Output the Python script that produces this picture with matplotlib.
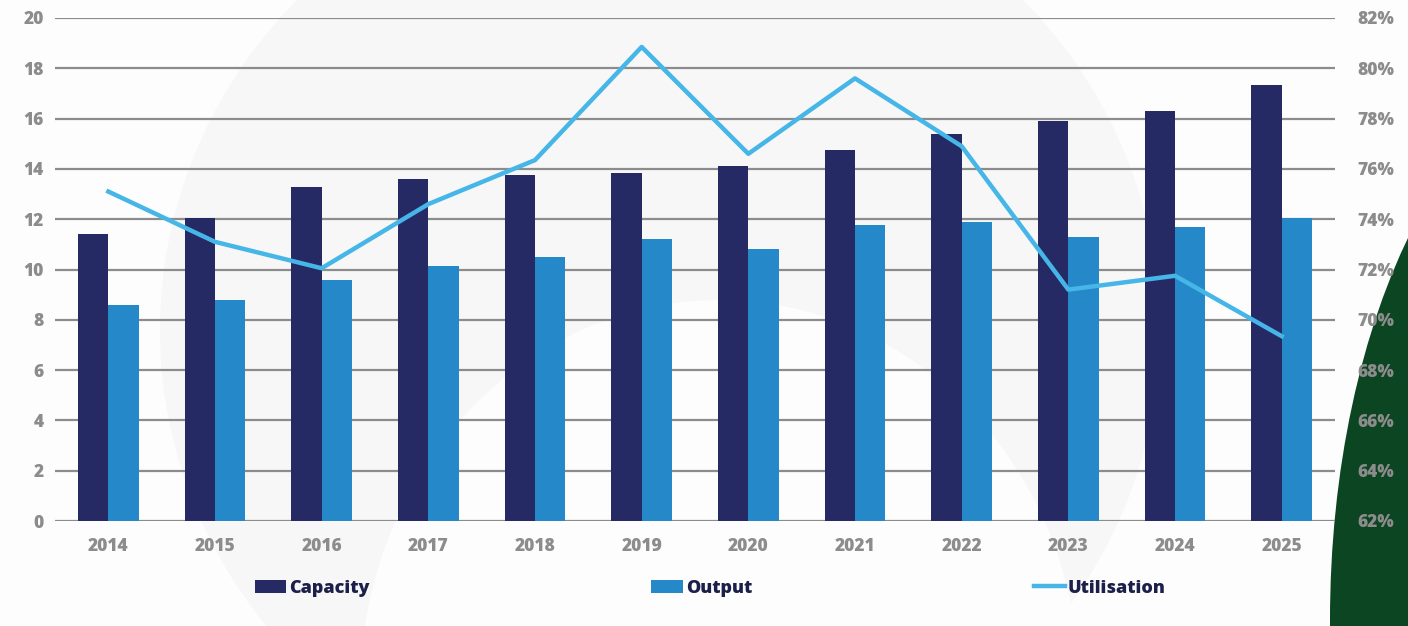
import matplotlib.pyplot as plt
from matplotlib.patches import Ellipse
import numpy as np

years = ['2014', '2015', '2016', '2017', '2018', '2019', '2020', '2021', '2022', '2023', '2024', '2025']
capacity = [11.4, 12.05, 13.3, 13.6, 13.75, 13.85, 14.1, 14.75, 15.4, 15.9, 16.3, 17.35]
output = [8.6, 8.8, 9.6, 10.15, 10.5, 11.2, 10.8, 11.75, 11.9, 11.3, 11.7, 12.05]
utilisation = [75.1, 73.1, 72.05, 74.6, 76.35, 80.85, 76.6, 79.6, 76.9, 71.2, 71.75, 69.35]

navy = '#252a64'
blue = '#2588c9'
light = '#45b6e7'
grey = '#8c8c8c'

fig = plt.figure(figsize=(14.08, 6.26), dpi=100)
fig.patch.set_facecolor('#fdfdfd')

# faint background shapes
bg = fig.add_axes([0, 0, 1, 1], zorder=-10)
bg.set_xlim(0, 1408)
bg.set_ylim(626, 0)
bg.axis('off')
bg.add_patch(Ellipse((660, 330), 1000, 960, color='#f7f7f7', lw=0))
bg.add_patch(Ellipse((720, 690), 720, 780, color='#fdfdfd', lw=0))
bg.add_patch(Ellipse((1620, 620), 580, 1120, color='#0c4522', lw=0))

ax = fig.add_axes([55/1408, 1 - 521/626, 1280/1408, 503/626])
ax.patch.set_alpha(0)
x = np.arange(len(years))
w = 0.285
ax.bar(x - w/2, capacity, w, color=navy, label='Capacity', zorder=3)
ax.bar(x + w/2, output, w, color=blue, label='Output', zorder=3)
ax.set_xlim(-0.5, len(years) - 0.5)
ax.set_ylim(0, 20)
ax.set_yticks(range(0, 21, 2))
ax.set_xticks(x)
ax.set_xticklabels(years)
ax.grid(axis='y', color=grey, lw=1.6, zorder=0)
for s in ax.spines.values():
    s.set_visible(False)
ax.tick_params(length=0, colors=grey, labelsize=12.5)
ax.tick_params(axis='y', pad=8)
ax.tick_params(axis='x', pad=12)
for t in ax.get_xticklabels() + ax.get_yticklabels():
    t.set_fontweight('heavy')
    t.set_fontfamily('Open Sans')

ax2 = ax.twinx()
ax2.plot(x, utilisation, color=light, lw=3.2, label='Utilisation', zorder=4)
ax2.set_ylim(62, 82)
ax2.set_yticks(range(62, 83, 2))
ax2.set_yticklabels([f'{v}%' for v in range(62, 83, 2)])
for s in ax2.spines.values():
    s.set_visible(False)
ax2.tick_params(length=0, colors=grey, labelsize=12.5, pad=16)
for t in ax2.get_yticklabels():
    t.set_fontweight('heavy')
    t.set_fontfamily('Open Sans')

h1, l1 = ax.get_legend_handles_labels()
h2, l2 = ax2.get_legend_handles_labels()
leg = fig.legend(h1 + h2, l1 + l2, loc='center', bbox_to_anchor=(0.5045, 0.0607),
                 ncol=3, frameon=False, columnspacing=15.6, handlelength=1.75,
                 handletextpad=0.15, prop={'family': 'Open Sans', 'weight': 'heavy', 'size': 13})
for t in leg.get_texts():
    t.set_color('#1b1f4a')

fig.savefig('out.png', dpi=100, facecolor=fig.get_facecolor())
